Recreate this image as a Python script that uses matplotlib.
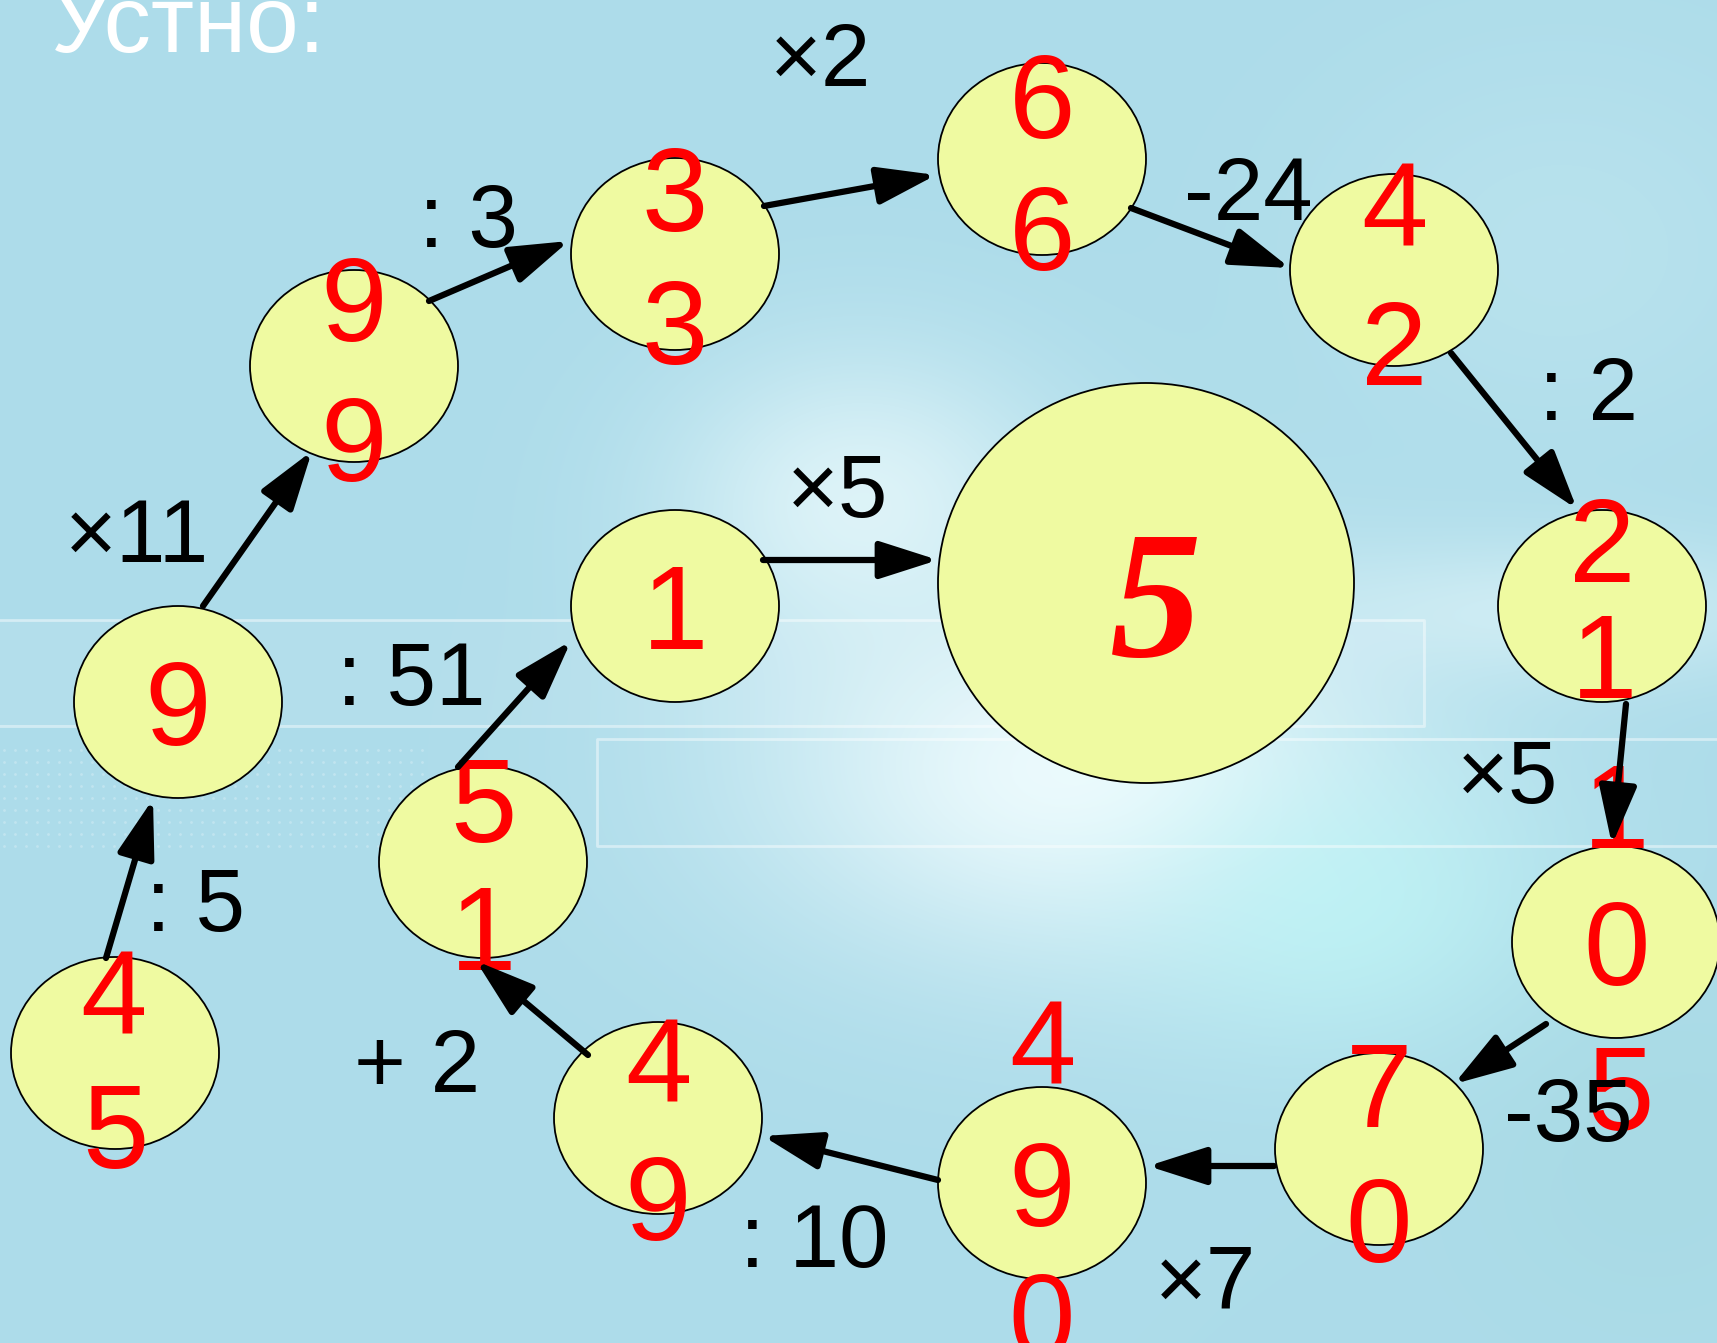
import numpy as np
import matplotlib
matplotlib.use('Agg')
import matplotlib.pyplot as plt
from matplotlib.patches import Ellipse

W, H = 1717, 1343

# circles: centre x, centre y (pixels, y down)
circ_x = [115, 178, 354, 675, 1042, 1394, 1602, 1616, 1379, 1042, 658, 483, 675]
circ_y = [1053, 702, 366, 254, 159, 270, 606, 942, 1149, 1183, 1118, 862, 606]
big_circ = (1146, 583)

# red digits
dig_txt = ['4', '5', '9', '9', '9', '3', '3', '6', '6', '4', '2', '2', '1', '1',
           '0', '5', '7', '0', '4', '9', '0', '4', '9', '5', '1', '1']
dig_x = [113, 115, 178, 354, 354, 675, 675, 1042, 1042, 1394, 1394, 1602, 1604, 1616,
         1617, 1620, 1379, 1379, 1042, 1042, 1042, 658, 658, 483, 483, 675]
dig_y = [991, 1125, 702, 298, 438, 188, 321, 95, 227, 203, 342, 539, 655, 805,
         942, 1087, 1084, 1219, 1042, 1183, 1314, 1059, 1197, 799, 927, 606]

# operations
op_txt = ['×2', ': 3', '-24', ': 2', '×11', '×5', ': 51', '×5', ': 5', '+ 2', '-35', ': 10', '×7']
op_x = [821, 468, 1248, 1588, 137, 838, 411, 1508, 195, 417, 1568, 814, 1205]
op_y = [53, 214, 188, 387, 529, 485, 673, 770, 898, 1059, 1108, 1234, 1276]

# arrows: start -> tip
arr_x0 = [106, 203, 429, 764, 1131, 1451, 1626, 1546, 1274, 938, 588, 458, 763]
arr_y0 = [958, 606, 301, 206, 208, 353, 704, 1024, 1166, 1180, 1055, 767, 560]
arr_x1 = [153, 312, 569, 936, 1290, 1577, 1612, 1454, 1148, 763, 476, 571, 938]
arr_y1 = [799, 451, 241, 175, 268, 509, 845, 1084, 1166, 1136, 961, 641, 560]

#Background#
yy, xx = np.mgrid[0:H, 0:W]
base = np.array([173, 220, 234]) / 255.0
bg = np.ones((H, W, 3)) * base

def blob(cx, cy, sx, sy, col, k):
    g = k * np.exp(-(((xx - cx) / sx) ** 2 + ((yy - cy) / sy) ** 2))
    return g[..., None], np.array(col) / 255.0

for cx, cy, sx, sy, col, k in [
        (1080, 770, 320, 190, (240, 252, 254), 0.95),
        (860, 500, 190, 150, (235, 250, 252), 0.75),
        (1560, 610, 260, 70, (235, 250, 252), 0.5),
        (1560, 250, 250, 200, (200, 235, 242), 0.4),
        (1350, 910, 200, 140, (190, 246, 246), 0.7),
        (1650, 1150, 200, 200, (160, 215, 218), 0.3)]:
    g, c = blob(cx, cy, sx, sy, col, k)
    bg = bg * (1 - g) + c * g
bg = np.clip(bg, 0, 1)

fig = plt.figure(figsize=(W / 100, H / 100), dpi=100)
ax = fig.add_axes([0, 0, 1, 1])
ax.imshow(bg, extent=(0, W, H, 0), aspect='auto', zorder=0)
ax.set_xlim(0, W)
ax.set_ylim(H, 0)
ax.axis('off')

# faint panels
ax.fill_between([0, 1424], 620, 726, color='white', alpha=0.08, zorder=0.5, lw=0)
ax.plot([0, 1424, 1424, 0], [620, 620, 726, 726], color='white', alpha=0.45, lw=2, zorder=0.6)
ax.plot([1717, 597, 597, 1717], [739, 739, 846, 846], color='white', alpha=0.45, lw=2, zorder=0.6)
gx, gy = np.meshgrid(np.arange(4, 425, 11), np.arange(750, 850, 12))
ax.scatter(gx.ravel(), gy.ravel(), s=4, color='white', alpha=0.25, lw=0, zorder=0.6)

ax.text(50, 52, 'Устно:', color='white', fontsize=68, family='Liberation Sans',
        ha='left', va='baseline', zorder=1)

#Circles#
face = '#EFFAA1'
for x, y in zip(circ_x, circ_y):
    ax.add_patch(Ellipse((x, y), 208, 192, facecolor=face, edgecolor='black', lw=1.3, zorder=2))
ax.add_patch(Ellipse(big_circ, 416, 400, facecolor=face, edgecolor='black', lw=1.3, zorder=2))

for t, x, y in zip(dig_txt, dig_x, dig_y):
    ax.text(x, y, t, color='red', fontsize=86, family='Liberation Sans',
            ha='center', va='center_baseline', zorder=3)
ax.text(big_circ[0] + 10, big_circ[1] + 10, '5', color='red', fontsize=132,
        family='Liberation Serif', style='italic', weight='bold',
        ha='center', va='center_baseline', zorder=3)

#Arrows#
for x0, y0, x1, y1 in zip(arr_x0, arr_y0, arr_x1, arr_y1):
    ax.annotate('', xy=(x1, y1), xytext=(x0, y0), zorder=4,
                arrowprops=dict(arrowstyle='-|>,head_length=1.0,head_width=0.32',
                                mutation_scale=36, lw=4.5, color='black',
                                shrinkA=0, shrinkB=0))

for t, x, y in zip(op_txt, op_x, op_y):
    ax.text(x, y, t, color='black', fontsize=64, family='Liberation Sans',
            ha='center', va='center_baseline', zorder=5)

plt.savefig('out.png', dpi=100)
